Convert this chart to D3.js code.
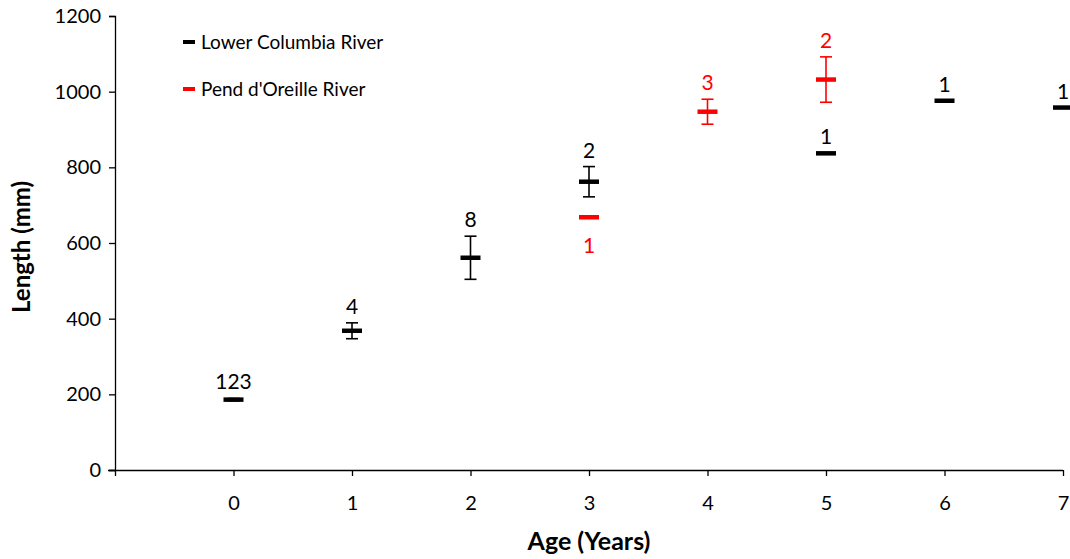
<!DOCTYPE html>
<html><head><meta charset="utf-8">
<script src="https://cdn.jsdelivr.net/npm/d3@7"></script>
<style>body{margin:0;background:#fff}svg{display:block}text{font-family:Lato,"Open Sans",sans-serif}</style>
</head><body><svg id="c" width="1070" height="559"></svg>
<script>
// ---- data ----
const ages = [0,1,2,3,4,5,6,7];
const yTicks = [0,200,400,600,800,1000,1200];
const lowerAges  = [0,1,2,3,5,6,7];
const lowerMeans = [186,368,561,762,837,976,958];
const lowerErr   = [3,21,57,40,0,0,0];
const lowerN     = [123,4,8,2,1,1,1];
const lowerLabelPos = ["above","above","above","above","above","above","above"];
const pendAges  = [3,4,5];
const pendMeans = [668,947,1032];
const pendErr   = [0,33,60];
const pendN     = [1,3,2];
const pendLabelPos = ["below","above","above"];
const seriesNames = ["Lower Columbia River","Pend d'Oreille River"];
const seriesColors = ["#000000","#ff0000"];

const svg = d3.select("#c");
const x = d3.scaleLinear().domain([-1,7]).range([115,1063]);
const y = d3.scaleLinear().domain([0,1200]).range([470,16]);

// axes
const yAxis = svg.append("g").attr("transform","translate(115,0)")
  .call(d3.axisLeft(y).tickValues(yTicks).tickSize(6).tickPadding(8).tickFormat(d3.format("d")));
const xAxis = svg.append("g").attr("transform","translate(0,470)")
  .call(d3.axisBottom(x).tickValues([-1].concat(ages)).tickSize(6).tickPadding(20)
    .tickFormat(d=> d<0 ? "" : d));
[yAxis,xAxis].forEach(g=>{
  g.select(".domain").attr("stroke","#000").attr("stroke-width",1.3);
  g.selectAll(".tick line").attr("stroke","#000").attr("stroke-width",1.3);
  g.selectAll(".tick text").attr("fill","#000").style("font-size","20px");
});
xAxis.select(".domain").attr("d","M108,0.5H1063");

svg.append("text").attr("x",589).attr("y",550).attr("text-anchor","middle")
  .style("font-size","25px").style("font-weight","bold").text("Age (Years)");
svg.append("text").attr("transform","translate(30,247) rotate(-90)").attr("text-anchor","middle")
  .style("font-size","24px").style("font-weight","bold").text("Length (mm)");

function drawSeries(xs, ms, es, ns, pos, color){
  const g = svg.append("g");
  xs.forEach((a,i)=>{
    const cx = x(a), m = ms[i], e = es[i];
    if(e>0){
      g.append("line").attr("x1",cx).attr("x2",cx).attr("y1",y(m+e)).attr("y2",y(m-e))
        .attr("stroke",color).attr("stroke-width",1.6);
      [m+e,m-e].forEach(v=>g.append("line").attr("x1",cx-6).attr("x2",cx+6)
        .attr("y1",y(v)).attr("y2",y(v)).attr("stroke",color).attr("stroke-width",1.6));
    }
    g.append("line").attr("x1",cx-10).attr("x2",cx+10).attr("y1",y(m)).attr("y2",y(m))
      .attr("stroke",color).attr("stroke-width",4.5);
    const ly = pos[i]==="above" ? y(m+e)-9 : y(m-e)+36;
    g.append("text").attr("x",cx).attr("y",ly).attr("text-anchor","middle")
      .attr("fill",color).style("font-size","21px").text(ns[i]);
  });
}
drawSeries(lowerAges,lowerMeans,lowerErr,lowerN,lowerLabelPos,seriesColors[0]);
drawSeries(pendAges,pendMeans,pendErr,pendN,pendLabelPos,seriesColors[1]);

// legend
seriesNames.forEach((n,i)=>{
  const ly = 42 + i*47;
  svg.append("line").attr("x1",183).attr("x2",195).attr("y1",ly).attr("y2",ly)
    .attr("stroke",seriesColors[i]).attr("stroke-width",4);
  svg.append("text").attr("x",201).attr("y",ly+7).style("font-size","19px").attr("fill","#000").text(n);
});
</script></body></html>
